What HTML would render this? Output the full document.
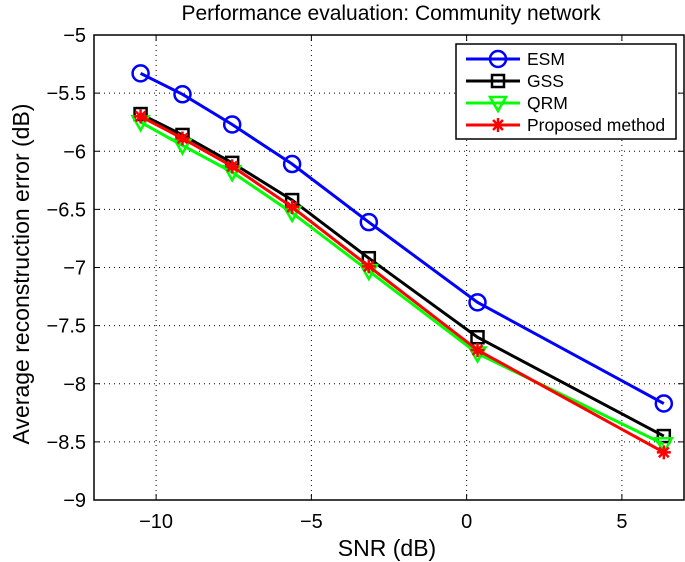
<!DOCTYPE html>
<html><head><meta charset="utf-8"><style>
body{margin:0;background:#fff}
svg{display:block;font-family:"Liberation Sans",sans-serif}
</style></head><body>
<svg id="chart" width="685" height="562" viewBox="0 0 685 562" xmlns="http://www.w3.org/2000/svg">
<text x="391" y="20" text-anchor="middle" font-size="21">Performance evaluation: Community network</text>
<g id="grid"></g>
<g id="axes"></g>
<g id="series"></g>
<text x="387" y="556" text-anchor="middle" font-size="23">SNR (dB)</text>
<text transform="translate(29,274) rotate(-90)" text-anchor="middle" font-size="23">Average reconstruction error (dB)</text>
<g id="legend"></g>
</svg>
<script>
const snr = [-10.5, -9.15, -7.55, -5.62, -3.15, 0.35, 6.35];
const esm = [-5.33, -5.51, -5.77, -6.11, -6.61, -7.30, -8.17];
const gss = [-5.68, -5.86, -6.10, -6.42, -6.92, -7.60, -8.45];
const qrm = [-5.75, -5.95, -6.18, -6.53, -7.03, -7.74, -8.52];
const proposed = [-5.70, -5.89, -6.13, -6.48, -6.99, -7.71, -8.59];
const xTicks = [-10, -5, 0, 5];
const yTicks = [-5, -5.5, -6, -6.5, -7, -7.5, -8, -8.5, -9];
const seriesNames = ["ESM", "GSS", "QRM", "Proposed method"];

const L=94,R=684,T=35,B=500, xMin=-12,xMax=7,yMin=-9,yMax=-5;
const sx=v=>L+(v-xMin)/(xMax-xMin)*(R-L);
const sy=v=>B-(v-yMin)/(yMax-yMin)*(B-T);
const NS="http://www.w3.org/2000/svg";
function mk(tag,attrs,parent){const e=document.createElementNS(NS,tag);for(const k in attrs)e.setAttribute(k,attrs[k]);parent.appendChild(e);return e;}
const grid=document.getElementById('grid'),axes=document.getElementById('axes'),ser=document.getElementById('series'),leg=document.getElementById('legend');

xTicks.forEach(t=>{
  const g=mk('line',{x1:sx(t),x2:sx(t),y1:T,y2:B,stroke:'#000','stroke-width':1,'stroke-dasharray':'1,4'},grid);
  
  
  mk('line',{x1:sx(t),x2:sx(t),y1:B,y2:B-6,stroke:'#000'},axes);
  mk('line',{x1:sx(t),x2:sx(t),y1:T,y2:T+6,stroke:'#000'},axes);
  const tx=mk('text',{x:sx(t),y:B+28,'text-anchor':'middle','font-size':20},axes);
  tx.textContent=(t<0?'\u2212':'')+Math.abs(t);
  
  
});
yTicks.forEach(t=>{
  if(t>-9&&t<-5){
    const g=mk('line',{x1:L,x2:R,y1:sy(t),y2:sy(t),stroke:'#000','stroke-width':1,'stroke-dasharray':'1,4'},grid);
    
    
  }
  mk('line',{x1:L,x2:L+6,y1:sy(t),y2:sy(t),stroke:'#000'},axes);
  mk('line',{x1:R,x2:R-6,y1:sy(t),y2:sy(t),stroke:'#000'},axes);
  const tx=mk('text',{x:L-8,y:sy(t)+7,'text-anchor':'end','font-size':20},axes);
  tx.textContent='\u2212'+Math.abs(t);
  
  
});
mk('rect',{x:L,y:T,width:R-L,height:B-T,fill:'none',stroke:'#000','stroke-width':1.5},axes);

function marker(type,x,y,color,parent){
  if(type==='o') return mk('circle',{cx:x,cy:y,r:8,fill:'none',stroke:color,'stroke-width':2.5},parent);
  if(type==='s') return mk('rect',{x:x-6,y:y-6,width:12,height:12,fill:'none',stroke:color,'stroke-width':2.5},parent);
  if(type==='v') return mk('path',{d:`M${x-8},${y-6}L${x+8},${y-6}L${x},${y+8}Z`,fill:'none',stroke:color,'stroke-width':2.5},parent);
  const g=mk('g',{},parent);
  for(let a=0;a<4;a++){const an=a*Math.PI/4;mk('line',{x1:x-7*Math.cos(an),y1:y-7*Math.sin(an),x2:x+7*Math.cos(an),y2:y+7*Math.sin(an),stroke:color,'stroke-width':2.5},g);}
  return g;
}
const defs=[[esm,'#0000ff','o'],[gss,'#000000','s'],[qrm,'#00ff00','v'],[proposed,'#ff0000','*']];
defs.forEach((d,i)=>{
  const [vals,c,m]=d;
  const g=mk('g',{},ser);
  
  
  mk('polyline',{points:vals.map((v,j)=>sx(snr[j])+','+sy(v)).join(' '),fill:'none',stroke:c,'stroke-width':3},g);
  vals.forEach((v,j)=>{
    const p=marker(m,sx(snr[j]),sy(v),c,g);
    
    
  });
});
mk('rect',{x:456,y:44,width:220,height:95,fill:'#fff',stroke:'#000','stroke-width':1.5},leg);
defs.forEach((d,i)=>{
  const y=59+i*22;
  const g=mk('g',{},leg);
  
  
  mk('line',{x1:466,x2:520,y1:y,y2:y,stroke:d[1],'stroke-width':3},g);
  marker(d[2],498,y,d[1],g);
  const t=mk('text',{x:527,y:y+6,'font-size':17.5},g);
  t.textContent=seriesNames[i];
});
</script>
</body></html>
